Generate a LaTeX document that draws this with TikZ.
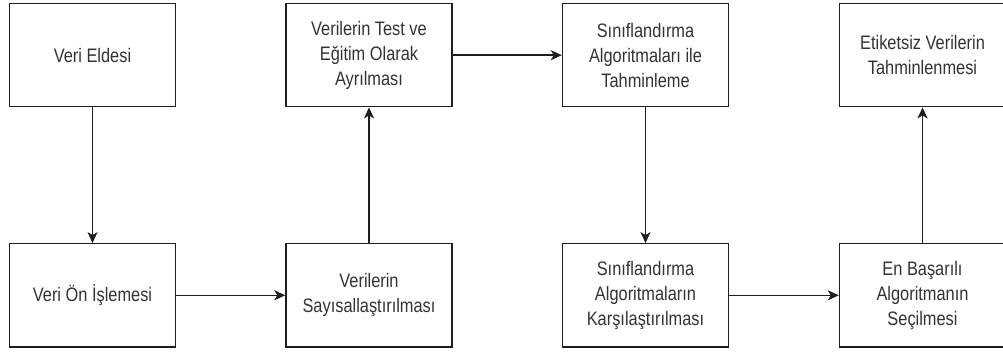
\documentclass[tikz,border=0pt]{standalone}
\usepackage{fontspec}
\setmainfont{Liberation Sans}[FakeStretch=0.84]
\usetikzlibrary{arrows.meta}
\definecolor{edge}{HTML}{1E1E1E}
\definecolor{ink}{HTML}{333333}
\tikzset{
  stepbox/.style={draw=edge, line width=1.4pt, fill=white,
    minimum width=166pt, minimum height=103pt, inner sep=0pt,
    align=center, text=ink,
    font=\fontsize{19.5pt}{25pt}\selectfont},
  flow/.style={draw=edge, line width=1.4pt,
    -{Stealth[length=11pt,width=10pt,inset=3pt]}}
}
\begin{document}
\begin{tikzpicture}[x=1pt,y=1pt]
  \useasboundingbox (0,0) rectangle (1003,-352);
  % top row
  \node[stepbox] (a1) at (92.5,-55.2) {Veri Eldesi};
  \node[stepbox] (a2) at (369,-55.2) {Verilerin Test ve\\Eğitim Olarak\\Ayrılması};
  \node[stepbox] (a3) at (645.5,-55.2) {Sınıflandırma\\Algoritmaları ile\\Tahminleme};
  \node[stepbox] (a4) at (922.5,-55.2) {Etiketsiz Verilerin\\Tahminlenmesi};
  % bottom row
  \node[stepbox] (b1) at (92.5,-295.3) {Veri Ön İşlemesi};
  \node[stepbox] (b2) at (369,-295.3) {Verilerin\\Sayısallaştırılması};
  \node[stepbox] (b3) at (645.5,-295.3) {Sınıflandırma\\Algoritmaların\\Karşılaştırılması};
  \node[stepbox] (b4) at (922.5,-295.3) {En Başarılı\\Algoritmanın\\Seçilmesi};
  % connectors
  \draw[flow] (a1) -- (b1);
  \draw[flow] (b1) -- (b2);
  \draw[flow] (b2) -- (a2);
  \draw[flow] (a2) -- (a3);
  \draw[flow] (a3) -- (b3);
  \draw[flow] (b3) -- (b4);
  \draw[flow] (b4) -- (a4);
\end{tikzpicture}
\end{document}
